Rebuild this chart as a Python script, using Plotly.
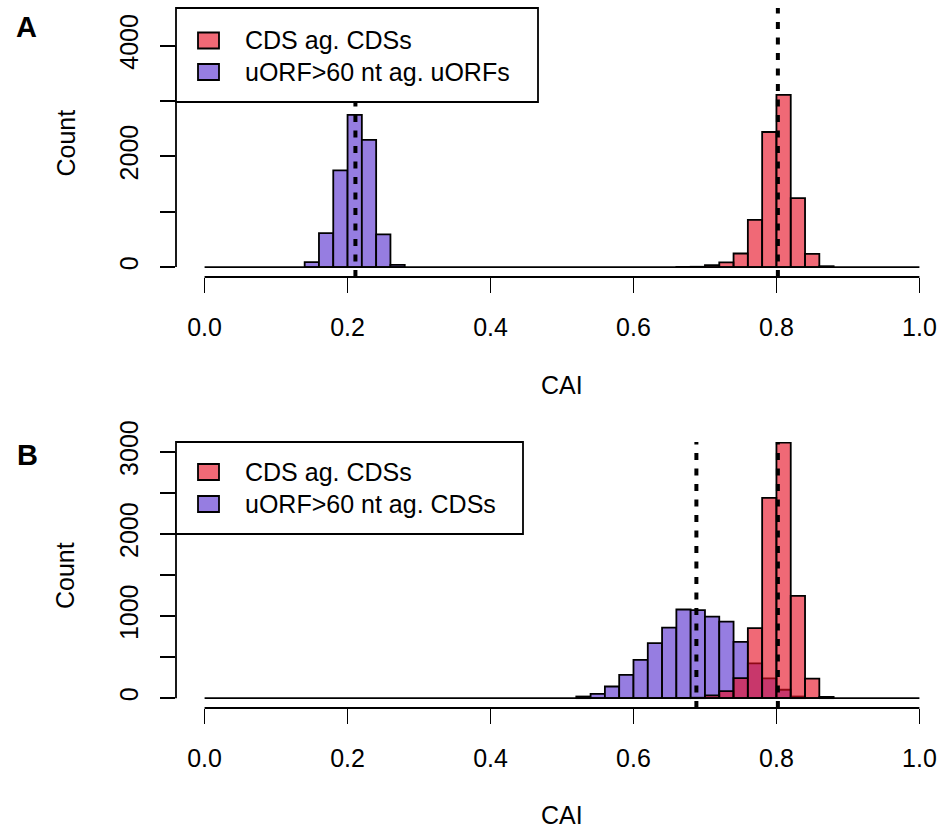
import plotly.graph_objects as go

# ---------------- data ----------------
bin_width = 0.02
cds_bins = [0.66, 0.68, 0.70, 0.72, 0.74, 0.76, 0.78, 0.80, 0.82, 0.84, 0.86]
cds_counts = [2, 5, 33, 85, 245, 853, 2440, 3112, 1245, 238, 15]

uorf_a_bins = [0.14, 0.16, 0.18, 0.20, 0.22, 0.24, 0.26]
uorf_a_counts = [90, 613, 1745, 2750, 2299, 590, 40]

uorf_b_bins = [0.52, 0.54, 0.56, 0.58, 0.60, 0.62, 0.64, 0.66, 0.68, 0.70,
               0.72, 0.74, 0.76, 0.78, 0.80, 0.82]
uorf_b_counts = [20, 53, 142, 283, 465, 670, 860, 1080, 1072, 993,
                 932, 686, 424, 242, 102, 20]

mean_cds = 0.802
mean_uorf_a = 0.211
mean_uorf_b = 0.688

x_ticks = [0.0, 0.2, 0.4, 0.6, 0.8, 1.0]
x_ticklabels = ["0.0", "0.2", "0.4", "0.6", "0.8", "1.0"]
ya_ticks = [0, 1000, 2000, 3000, 4000]
ya_ticklabels = ["0", "", "2000", "", "4000"]
yb_ticks = [0, 500, 1000, 1500, 2000, 2500, 3000]
yb_ticklabels = ["0", "", "1000", "", "2000", "", "3000"]

legend_a = ["CDS ag. CDSs", "uORF>60 nt ag. uORFs"]
legend_b = ["CDS ag. CDSs", "uORF>60 nt ag. CDSs"]

# ---------------- style ----------------
W, H = 948, 830
L, R, T, B = 176, 0, 8, 122
PW, PH = W - L - R, H - T - B
FONT = "Liberation Sans, Arial, Helvetica, sans-serif"
FS = 25
RED = "rgba(231,13,34,0.62)"
RED_SOLID = "rgb(240,105,118)"
PURPLE = "rgb(150,125,225)"
LW = 1.8

XR = [-0.04, 1.04]
YRA = [-180, 4680]
YRB = [-120, 3120]
DOM_A = [(708 - 277) / PH, 1.0]
DOM_B = [0.0, (708 - 442) / PH]


def xp(px):
    return (px - L) / PW


def yp(py):
    return (H - B - py) / PH


def xdata_to_paper(v):
    return (v - XR[0]) / (XR[1] - XR[0])


def ydata_to_paper(v, rng, dom):
    return dom[0] + (v - rng[0]) / (rng[1] - rng[0]) * (dom[1] - dom[0])


def centers(bins):
    return [b + bin_width / 2 for b in bins]


fig = go.Figure()

# baselines (zero-count bins drawn as a flat line, as R does)
for ya in ["y", "y2"]:
    fig.add_trace(go.Scatter(x=[0, 1], y=[0, 0], mode="lines",
                             line=dict(color="black", width=LW),
                             xaxis="x" if ya == "y" else "x2", yaxis=ya,
                             showlegend=False, hoverinfo="skip"))

# Panel A
fig.add_trace(go.Bar(x=centers(cds_bins), y=cds_counts, width=bin_width,
                     marker=dict(color=RED, line=dict(color="black", width=LW)),
                     xaxis="x", yaxis="y", showlegend=False))
fig.add_trace(go.Bar(x=centers(uorf_a_bins), y=uorf_a_counts, width=bin_width,
                     marker=dict(color=PURPLE, line=dict(color="black", width=LW)),
                     xaxis="x", yaxis="y", showlegend=False))

# Panel B (purple first, translucent red over it)
fig.add_trace(go.Bar(x=centers(uorf_b_bins), y=uorf_b_counts, width=bin_width,
                     marker=dict(color=PURPLE, line=dict(color="black", width=LW)),
                     xaxis="x2", yaxis="y2", showlegend=False))
fig.add_trace(go.Bar(x=centers(cds_bins), y=cds_counts, width=bin_width,
                     marker=dict(color=RED, line=dict(color="black", width=LW)),
                     xaxis="x2", yaxis="y2", showlegend=False))

# dotted mean lines
for v, xa, ya, rng in [(mean_uorf_a, "x", "y", YRA), (mean_cds, "x", "y", YRA),
                       (mean_uorf_b, "x2", "y2", YRB), (mean_cds, "x2", "y2", YRB)]:
    fig.add_trace(go.Scatter(x=[v, v], y=[rng[0], rng[1]], mode="lines",
                             line=dict(color="black", width=4, dash="7px,8.5px"),
                             xaxis=xa, yaxis=ya, showlegend=False, hoverinfo="skip"))

axis_common = dict(range=XR, showgrid=False, zeroline=False, showline=False,
                   tickvals=x_ticks, ticktext=x_ticklabels, ticks="outside",
                   ticklen=15, tickwidth=LW, tickcolor="black",
                   tickfont=dict(family=FONT, size=FS, color="black"),
                   ticklabelstandoff=13, automargin=False, fixedrange=True)
yaxis_common = dict(showgrid=False, zeroline=False, showline=False,
                    ticks="outside", ticklen=15, tickwidth=LW, tickcolor="black",
                    tickangle=-90,
                    tickfont=dict(family=FONT, size=FS, color="black"),
                    ticklabelstandoff=12, automargin=False, fixedrange=True)

fig.update_layout(
    width=W, height=H,
    margin=dict(l=L, r=R, t=T, b=B, autoexpand=False),
    paper_bgcolor="white", plot_bgcolor="white",
    barmode="overlay", bargap=0,
    xaxis=dict(domain=[0, 1], anchor="y", **axis_common),
    xaxis2=dict(domain=[0, 1], anchor="y2", **axis_common),
    yaxis=dict(domain=DOM_A, range=YRA, anchor="x", tickvals=ya_ticks,
               ticktext=ya_ticklabels, **yaxis_common),
    yaxis2=dict(domain=DOM_B, range=YRB, anchor="x2", tickvals=yb_ticks,
                ticktext=yb_ticklabels, **yaxis_common),
    showlegend=False,
)

shapes = []
annotations = []

# R-style axis lines (from first to last tick)
for rng, dom, yt in [(YRA, DOM_A, ya_ticks), (YRB, DOM_B, yb_ticks)]:
    y_axis_p = dom[0]
    shapes.append(dict(type="line", xref="paper", yref="paper",
                       x0=xdata_to_paper(x_ticks[0]), x1=xdata_to_paper(x_ticks[-1]),
                       y0=y_axis_p, y1=y_axis_p,
                       line=dict(color="black", width=LW)))
    shapes.append(dict(type="line", xref="paper", yref="paper",
                       x0=0, x1=0,
                       y0=ydata_to_paper(yt[0], rng, dom), y1=ydata_to_paper(yt[-1], rng, dom),
                       line=dict(color="black", width=LW)))

# legends (drawn like R's legend box)
legend_specs = [
    (legend_a, (176, 538, 8, 102), [40.5, 72]),
    (legend_b, (176, 523, 442, 534), [472, 504]),
]
for labels, (x0, x1, y0, y1), rows in legend_specs:
    shapes.append(dict(type="rect", xref="paper", yref="paper",
                       x0=xp(x0), x1=xp(x1), y0=yp(y0), y1=yp(y1),
                       line=dict(color="black", width=LW), fillcolor="white",
                       layer="above"))
    for lab, cy, col in zip(labels, rows, [RED_SOLID, PURPLE]):
        shapes.append(dict(type="rect", xref="paper", yref="paper",
                           x0=xp(198), x1=xp(219), y0=yp(cy - 8), y1=yp(cy + 8),
                           line=dict(color="black", width=LW), fillcolor=col,
                           layer="above"))
        annotations.append(dict(text=lab, xref="paper", yref="paper",
                                x=xp(243), y=yp(cy), xanchor="left", yanchor="middle",
                                showarrow=False,
                                font=dict(family=FONT, size=FS, color="black")))

# axis titles and panel letters
for cy in [142.5, 575]:
    annotations.append(dict(text="Count", xref="paper", yref="paper",
                            x=xp(65), y=yp(cy), xanchor="center", yanchor="middle",
                            textangle=-90, showarrow=False,
                            font=dict(family=FONT, size=FS, color="black")))
for cy in [385, 815]:
    annotations.append(dict(text="CAI", xref="paper", yref="paper",
                            x=xp(562), y=yp(cy), xanchor="center", yanchor="middle",
                            showarrow=False,
                            font=dict(family=FONT, size=FS, color="black")))
for lab, cx, cy in [("A", 26, 27), ("B", 27, 455)]:
    annotations.append(dict(text="<b>%s</b>" % lab, xref="paper", yref="paper",
                            x=xp(cx), y=yp(cy), xanchor="center", yanchor="middle",
                            showarrow=False,
                            font=dict(family=FONT, size=29, color="black")))

fig.update_layout(shapes=shapes, annotations=annotations)

fig.write_html("out.html",
               config={"displayModeBar": False, "staticPlot": True},
               post_script="document.body.style.margin='0';document.body.style.padding='0';")
